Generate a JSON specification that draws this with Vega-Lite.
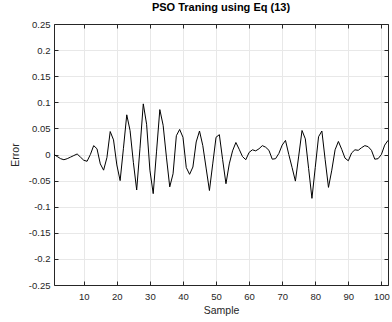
{
  "$schema": "https://vega.github.io/schema/vega-lite/v6.json",
  "width": 334,
  "height": 261,
  "autosize": "none",
  "padding": {"left": 54, "top": 24, "right": 4, "bottom": 37},
  "background": "white",
  "title": {"text": "PSO Traning using Eq (13)", "font": "Liberation Sans", "fontSize": 11, "fontWeight": "bold", "color": "#000000", "offset": 6, "anchor": "middle"},
  "config": {
    "view": {"stroke": null},
    "axis": {"labelFont": "Liberation Sans", "labelFontSize": 9.5, "labelColor": "#262626", "titleFont": "Liberation Sans", "titleFontSize": 10.5, "titleFontWeight": "normal", "titleColor": "#262626", "domainColor": "#262626", "tickColor": "#262626", "gridColor": "#e8e8e8", "gridWidth": 1, "domainWidth": 1, "tickWidth": 1}
  },
  "data": {"values": [
    {"s":1,"e":0.000},{"s":2,"e":-0.004},{"s":3,"e":-0.008},{"s":4,"e":-0.010},{"s":5,"e":-0.008},
    {"s":6,"e":-0.005},{"s":7,"e":-0.002},{"s":8,"e":0.001},{"s":9,"e":-0.005},{"s":10,"e":-0.011},
    {"s":11,"e":-0.013},{"s":12,"e":0.000},{"s":13,"e":0.017},{"s":14,"e":0.011},{"s":15,"e":-0.018},
    {"s":16,"e":-0.030},{"s":17,"e":-0.006},{"s":18,"e":0.044},{"s":19,"e":0.028},{"s":20,"e":-0.020},
    {"s":21,"e":-0.050},{"s":22,"e":0.012},{"s":23,"e":0.076},{"s":24,"e":0.046},{"s":25,"e":-0.015},
    {"s":26,"e":-0.068},{"s":27,"e":0.012},{"s":28,"e":0.097},{"s":29,"e":0.058},{"s":30,"e":-0.030},
    {"s":31,"e":-0.075},{"s":32,"e":0.005},{"s":33,"e":0.086},{"s":34,"e":0.056},{"s":35,"e":-0.005},
    {"s":36,"e":-0.062},{"s":37,"e":-0.037},{"s":38,"e":0.036},{"s":39,"e":0.048},{"s":40,"e":0.033},
    {"s":41,"e":-0.025},{"s":42,"e":-0.038},{"s":43,"e":-0.024},{"s":44,"e":0.024},{"s":45,"e":0.045},
    {"s":46,"e":0.017},{"s":47,"e":-0.026},{"s":48,"e":-0.069},{"s":49,"e":-0.018},{"s":50,"e":0.033},
    {"s":51,"e":0.038},{"s":52,"e":-0.010},{"s":53,"e":-0.056},{"s":54,"e":-0.018},{"s":55,"e":0.007},
    {"s":56,"e":0.023},{"s":57,"e":0.010},{"s":58,"e":-0.004},{"s":59,"e":-0.010},{"s":60,"e":0.004},
    {"s":61,"e":0.009},{"s":62,"e":0.007},{"s":63,"e":0.011},{"s":64,"e":0.017},{"s":65,"e":0.014},
    {"s":66,"e":0.008},{"s":67,"e":-0.009},{"s":68,"e":-0.008},{"s":69,"e":0.002},{"s":70,"e":0.018},
    {"s":71,"e":0.027},{"s":72,"e":0.000},{"s":73,"e":-0.025},{"s":74,"e":-0.051},{"s":75,"e":-0.003},
    {"s":76,"e":0.046},{"s":77,"e":0.030},{"s":78,"e":-0.027},{"s":79,"e":-0.084},{"s":80,"e":-0.025},
    {"s":81,"e":0.034},{"s":82,"e":0.045},{"s":83,"e":-0.010},{"s":84,"e":-0.063},{"s":85,"e":-0.030},
    {"s":86,"e":0.009},{"s":87,"e":0.025},{"s":88,"e":0.010},{"s":89,"e":-0.007},{"s":90,"e":-0.012},
    {"s":91,"e":0.003},{"s":92,"e":0.009},{"s":93,"e":0.008},{"s":94,"e":0.013},{"s":95,"e":0.017},
    {"s":96,"e":0.015},{"s":97,"e":0.008},{"s":98,"e":-0.009},{"s":99,"e":-0.008},{"s":100,"e":0.000},
    {"s":101,"e":0.018},{"s":102,"e":0.027}
  ]},
  "layer": [
    {
      "mark": {"type": "line", "color": "#000000", "strokeWidth": 1},
      "encoding": {
        "x": {"field": "s", "type": "quantitative", "scale": {"domain": [1, 102], "nice": false, "zero": false},
              "axis": {"title": "Sample", "values": [10,20,30,40,50,60,70,80,90,100], "grid": true, "tickSize": -4, "labelPadding": 10, "titlePadding": 5, "labelFlush": false}},
        "y": {"field": "e", "type": "quantitative", "scale": {"domain": [-0.25, 0.25], "nice": false, "zero": false},
              "axis": {"title": "Error", "values": [-0.25,-0.2,-0.15,-0.1,-0.05,0,0.05,0.1,0.15,0.2,0.25], "grid": true, "tickSize": -4, "labelPadding": 8, "titlePadding": 8, "labelExpr": "toString(round(datum.value*100)/100)"}}
      }
    },
    {
      "mark": {"type": "line", "color": "#000000", "strokeWidth": 1, "opacity": 0},
      "encoding": {
        "x": {"field": "s", "type": "quantitative", "scale": {"domain": [1, 102], "nice": false, "zero": false},
              "axis": {"orient": "top", "title": null, "labels": false, "values": [10,20,30,40,50,60,70,80,90,100], "grid": false, "tickSize": -4}},
        "y": {"field": "e", "type": "quantitative", "scale": {"domain": [-0.25, 0.25], "nice": false, "zero": false},
              "axis": {"orient": "right", "title": null, "labels": false, "values": [-0.25,-0.2,-0.15,-0.1,-0.05,0,0.05,0.1,0.15,0.2,0.25], "grid": false, "tickSize": -4}}
      }
    }
  ],
  "resolve": {"axis": {"x": "independent", "y": "independent"}}
}
